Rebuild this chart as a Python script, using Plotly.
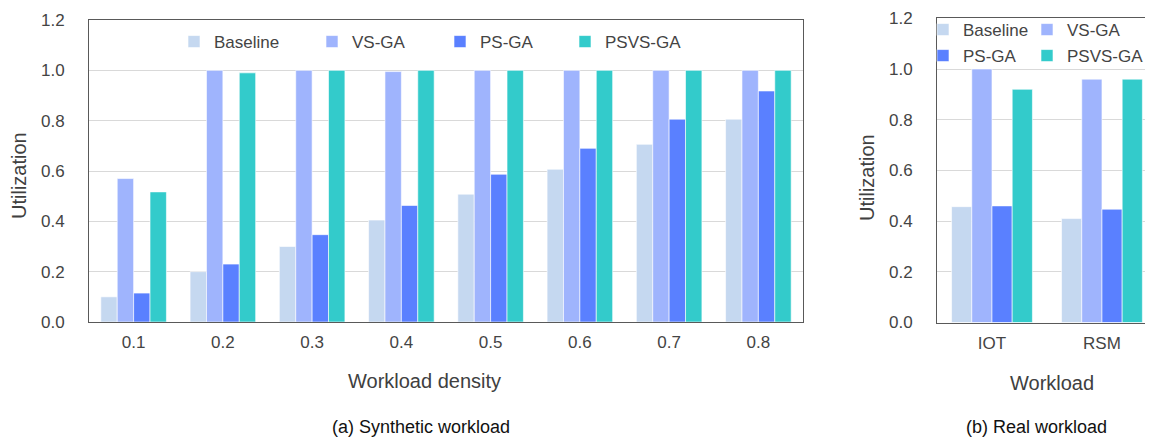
import plotly.graph_objects as go

# ---- data ----
densities = ["0.1", "0.2", "0.3", "0.4", "0.5", "0.6", "0.7", "0.8"]
syn_baseline = [0.10, 0.20, 0.30, 0.405, 0.508, 0.607, 0.706, 0.806]
syn_vsga = [0.57, 1.00, 1.00, 0.995, 1.00, 1.00, 1.00, 1.00]
syn_psga = [0.115, 0.23, 0.347, 0.463, 0.587, 0.69, 0.806, 0.918]
syn_psvsga = [0.517, 0.99, 1.00, 1.00, 1.00, 1.00, 1.00, 1.00]

workloads = ["IOT", "RSM"]
real_baseline = [0.457, 0.41]
real_vsga = [1.00, 0.96]
real_psga = [0.46, 0.447]
real_psvsga = [0.92, 0.96]

series_names = ["Baseline", "VS-GA", "PS-GA", "PSVS-GA"]
colors = ["#C5D8F0", "#9FB4FD", "#5A80FF", "#33CBCB"]
y_ticks = [0.0, 0.2, 0.4, 0.6, 0.8, 1.0, 1.2]

# page body has an 8px margin; size the figure so it ends at the window edge
OFF = 8
W, H = 1153 - OFF, 439 - OFF
FONT = "Arial, Liberation Sans, sans-serif"

def px_x(x):
    return (x - OFF) / W

def px_y(y):
    return (H - (y - OFF)) / H

fig = go.Figure()

syn_vals = [syn_baseline, syn_vsga, syn_psga, syn_psvsga]
real_vals = [real_baseline, real_vsga, real_psga, real_psvsga]
legends_a = ["legend", "legend4", "legend5", "legend6"]
legends_b = ["legend2", "legend7", "legend3", "legend8"]

for name, col, vals, lg in zip(series_names, colors, syn_vals, legends_a):
    fig.add_trace(go.Bar(
        x=densities, y=vals, name=name,
        marker=dict(color=col, line=dict(color="rgba(255,255,255,0.6)", width=1)),
        xaxis="x", yaxis="y", legend=lg, showlegend=True))

for name, col, vals, lg in zip(series_names, colors, real_vals, legends_b):
    fig.add_trace(go.Bar(
        x=workloads, y=vals, name=name,
        marker=dict(color=col, line=dict(color="rgba(255,255,255,0.6)", width=1)),
        xaxis="x2", yaxis="y2", legend=lg, showlegend=True))

axis_common = dict(
    showline=True, linecolor="#595959", linewidth=1, mirror=True,
    tickfont=dict(family=FONT, size=17, color="#444444"),
    automargin=False, ticks="",
)

fig.update_layout(
    width=W, height=H,
    margin=dict(l=0, r=0, t=0, b=0),
    paper_bgcolor="white", plot_bgcolor="white",
    barmode="group", bargap=0.265, bargroupgap=0,
    font=dict(family=FONT, color="#444444"),
    xaxis=dict(domain=[px_x(89), px_x(803)], anchor="y", type="category",
               range=[-0.5, 7.5], showgrid=False, ticklabelstandoff=5, **axis_common),
    yaxis=dict(domain=[px_y(322), px_y(20)], anchor="x", range=[0, 1.2],
               tickvals=y_ticks, tickformat=".1f", showgrid=True, gridcolor="#D9D9D9",
               zeroline=False, ticklabelstandoff=20, **axis_common),
    xaxis2=dict(domain=[px_x(937), 1.0], anchor="y2", type="category",
                range=[-0.5, 1.464], showgrid=False, ticklabelstandoff=5, **axis_common),
    yaxis2=dict(domain=[px_y(322.5), px_y(18.3)], anchor="x2", range=[0, 1.2],
                tickvals=y_ticks, tickformat=".1f", showgrid=True, gridcolor="#D9D9D9",
                zeroline=False, ticklabelstandoff=20, **axis_common),
)

leg_font = dict(family=FONT, size=17, color="#444444")
def leg(x, y):
    return dict(x=px_x(x), y=px_y(y), xanchor="left", yanchor="middle",
                orientation="h", bgcolor="rgba(0,0,0,0)", font=leg_font, itemwidth=30)

fig.update_layout(
    legend=leg(174, 42),
    legend4=leg(312, 42),
    legend5=leg(440, 42),
    legend6=leg(565, 42),
    legend2=leg(923, 30),
    legend7=leg(1027, 30),
    legend3=leg(923, 56),
    legend8=leg(1027, 56),
)

ann_title = dict(family=FONT, size=20, color="#404040")
ann_cap = dict(family=FONT, size=18, color="#111111")
fig.add_annotation(text="Utilization", x=px_x(19), y=px_y(176), xref="paper", yref="paper",
                   textangle=-90, showarrow=False, font=ann_title, xanchor="center", yanchor="middle")
fig.add_annotation(text="Utilization", x=px_x(867), y=px_y(178), xref="paper", yref="paper",
                   textangle=-90, showarrow=False, font=ann_title, xanchor="center", yanchor="middle")
fig.add_annotation(text="Workload density", x=px_x(424), y=px_y(381), xref="paper", yref="paper",
                   showarrow=False, font=ann_title, xanchor="center", yanchor="middle")
fig.add_annotation(text="Workload", x=px_x(1052), y=px_y(383), xref="paper", yref="paper",
                   showarrow=False, font=ann_title, xanchor="center", yanchor="middle")
fig.add_annotation(text="(a) Synthetic workload", x=px_x(421), y=px_y(427), xref="paper", yref="paper",
                   showarrow=False, font=ann_cap, xanchor="center", yanchor="middle")
fig.add_annotation(text="(b) Real workload", x=px_x(1036), y=px_y(427), xref="paper", yref="paper",
                   showarrow=False, font=ann_cap, xanchor="center", yanchor="middle")

fig.write_html("out.html")
